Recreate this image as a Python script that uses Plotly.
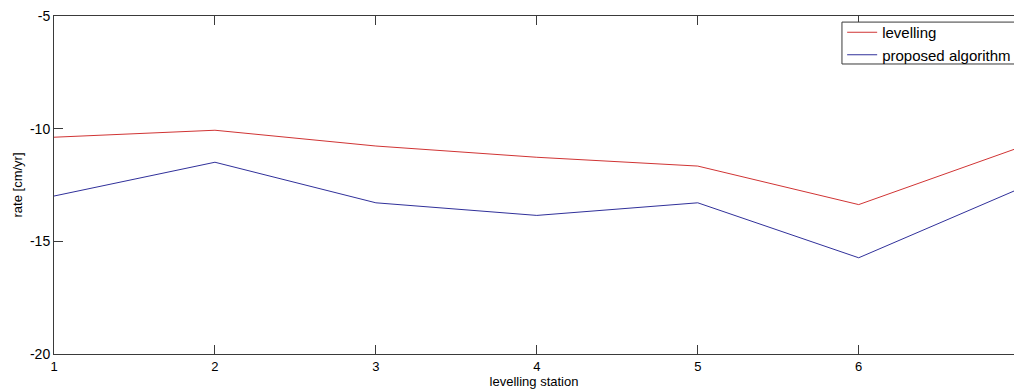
import plotly.graph_objects as go

stations = [1, 2, 3, 4, 5, 6, 7]
levelling = [-10.38, -10.07, -10.77, -11.27, -11.66, -13.37, -10.83]
proposed = [-12.99, -11.49, -13.29, -13.85, -13.29, -15.73, -12.66]
x_ticks = [1, 2, 3, 4, 5, 6]
y_ticks = [-20, -15, -10, -5]

FONT = "Liberation Sans, Arial, sans-serif"
AX = "#3a3a3a"

fig = go.Figure()
fig.add_trace(go.Scatter(x=stations, y=levelling, mode="lines", name="levelling",
                         line=dict(color="#d03434", width=1)))
fig.add_trace(go.Scatter(x=stations, y=proposed, mode="lines", name="proposed algorithm",
                         line=dict(color="#30309a", width=1)))

# legend frame (extends past the right edge, as in the reference)
fig.add_shape(type="rect", xref="paper", yref="paper",
              x0=0.8208, x1=1.05, y0=0.858, y1=0.982,
              line=dict(color=AX, width=1), fillcolor="white", layer="above")

fig.update_layout(
    width=1014, height=390,
    margin=dict(l=54, r=0, t=16, b=36, autoexpand=False),
    paper_bgcolor="white", plot_bgcolor="white",
    font=dict(family=FONT, size=13, color="black"),
    showlegend=True,
    legend=dict(x=0.821, y=1.0, xanchor="left", yanchor="top",
                bgcolor="rgba(0,0,0,0)", borderwidth=0,
                font=dict(family=FONT, size=15, color="black"),
                tracegroupgap=0, itemwidth=30),
)
fig.update_xaxes(
    range=[1, 6.965], tickmode="array", tickvals=x_ticks,
    ticktext=[str(v) for v in x_ticks],
    showgrid=False, zeroline=False, showline=True, linecolor=AX, linewidth=1,
    mirror="ticks", ticks="inside", ticklen=9, tickcolor=AX,
    title=dict(text="levelling station", standoff=2, font=dict(size=13)),
    tickfont=dict(size=13),
)
fig.update_yaxes(
    range=[-20, -5], tickmode="array", tickvals=y_ticks,
    ticktext=[str(v) for v in y_ticks],
    showgrid=False, zeroline=False, showline=True, linecolor=AX, linewidth=1,
    mirror=False, ticks="inside", ticklen=9, tickcolor=AX,
    title=dict(text="rate [cm/yr]", standoff=4, font=dict(size=13)),
    tickfont=dict(size=14),
)

fig.write_html(
    "out.html",
    config={"displayModeBar": False},
    post_script="document.body.style.margin='0';document.body.style.overflow='hidden';",
)
